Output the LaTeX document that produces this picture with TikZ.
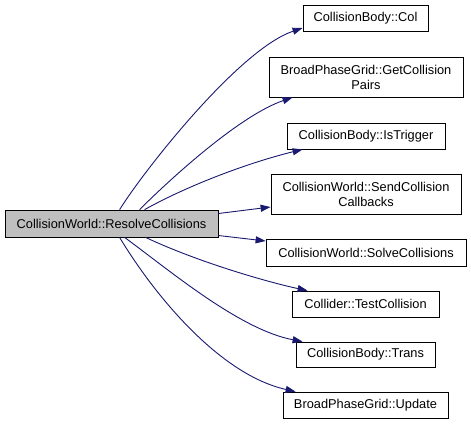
\documentclass[tikz,border=0pt]{standalone}
\usepackage{fontspec}
\setmainfont{Liberation Sans}
\usetikzlibrary{arrows.meta}
\definecolor{edgeblue}{RGB}{25,25,112}
\definecolor{mainfill}{RGB}{191,191,191}
\begin{document}
\begin{tikzpicture}[x=1pt,y=-1pt,
  box/.style={draw=black,line width=0.8pt,inner sep=0pt,align=center,
    font=\fontsize{12.8}{15}\selectfont},
  conn/.style={draw=edgeblue,line width=0.9pt,
    -{Triangle[length=10pt,width=7pt,fill=edgeblue]}}]
\useasboundingbox (0,0) rectangle (471,424);
\node[box,fill=mainfill,minimum width=213pt,minimum height=27pt] (main) at (111.5,223.5) {CollisionWorld::ResolveCollisions};
\node[box,minimum width=125pt,minimum height=26pt] (col) at (365.5,18) {CollisionBody::Col};
\node[box,minimum width=194pt,minimum height=40pt] (gcp) at (366,77) {BroadPhaseGrid::GetCollision\\Pairs};
\node[box,minimum width=158pt,minimum height=26pt] (trig) at (366,136) {CollisionBody::IsTrigger};
\node[box,minimum width=190pt,minimum height=40pt] (scb) at (366,194) {CollisionWorld::SendCollision\\Callbacks};
\node[box,minimum width=200pt,minimum height=27pt] (solve) at (366,252.5) {CollisionWorld::SolveCollisions};
\node[box,minimum width=147pt,minimum height=26pt] (test) at (365.5,304) {Collider::TestCollision};
\node[box,minimum width=139pt,minimum height=25pt] (trans) at (365.5,354.5) {CollisionBody::Trans};
\node[box,minimum width=165pt,minimum height=26pt] (upd) at (365.5,405) {BroadPhaseGrid::Update};

\draw[conn] ([xshift=115pt]main.north west) .. controls +(25,-40) and +(-63,21) .. ([yshift=-10pt]col.west);
\draw[conn] ([xshift=135pt]main.north west) .. controls +(30,-30) and +(-53,18) .. ([xshift=24pt]gcp.south west);
\draw[conn] ([xshift=140pt]main.north west) .. controls +(45,-25) and +(-53,13) .. ([xshift=16pt]trig.south west);
\draw[conn] ([yshift=10pt]main.east) -- ([yshift=-13pt]scb.west);
\draw[conn] ([yshift=-12pt]main.east) -- ([yshift=11.5pt]solve.west);
\draw[conn] ([xshift=141pt]main.south west) .. controls +(53,25) and +(-38,-8) .. ([xshift=16pt]test.north west);
\draw[conn] ([xshift=120pt]main.south west) .. controls +(45,33) and +(-63,-12) .. ([xshift=7pt]trans.north west);
\draw[conn] ([xshift=115pt]main.south west) .. controls +(35,58) and +(-76,-17) .. ([xshift=13pt]upd.north west);
\end{tikzpicture}
\end{document}
